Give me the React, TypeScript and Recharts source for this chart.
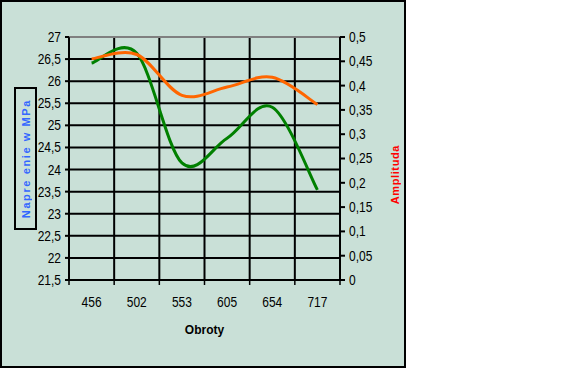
import { LineChart, Line, XAxis, YAxis, CartesianGrid, ReferenceLine } from "recharts";

// rotational speeds on the x axis
const obroty = ["456", "502", "553", "605", "654", "717"];
// stress in MPa (left axis)
const naprezenie = [26.41, 26.63, 24.15, 24.71, 25.41, 23.54];
// amplitude (right axis)
const amplituda = [0.455, 0.464, 0.38, 0.397, 0.417, 0.361];

const leftTicks = [21.5, 22, 22.5, 23, 23.5, 24, 24.5, 25, 25.5, 26, 26.5, 27];
const rightTicks = [0, 0.05, 0.1, 0.15, 0.2, 0.25, 0.3, 0.35, 0.4, 0.45, 0.5];

const FONT = '"Liberation Sans", Arial, sans-serif';
const BG = "#C9E0D7";

const data = obroty.map((label, i) => ({
  pos: i + 0.5,
  label,
  naprezenie: naprezenie[i],
  amplituda: amplituda[i],
}));

// band edges and centres on the numeric x axis
const xTicks = Array.from({ length: obroty.length * 2 + 1 }, (_, i) => i / 2);

const comma = (v: number) => String(v).replace(".", ",");

// Excel-like smoothed line (Catmull-Rom through the points)
function smoothCurve(context: any) {
  let pts: number[][] = [];
  return {
    areaStart() {},
    areaEnd() {},
    lineStart() {
      pts = [];
    },
    point(x: number, y: number) {
      pts.push([+x, +y]);
    },
    lineEnd() {
      const n = pts.length;
      if (!n) return;
      context.moveTo(pts[0][0], pts[0][1]);
      for (let i = 0; i < n - 1; i++) {
        const p0 = pts[i - 1] || pts[i];
        const p1 = pts[i];
        const p2 = pts[i + 1];
        const p3 = pts[i + 2] || p2;
        context.bezierCurveTo(
          p1[0] + (p2[0] - p0[0]) / 6,
          p1[1] + (p2[1] - p0[1]) / 6,
          p2[0] - (p3[0] - p1[0]) / 6,
          p2[1] - (p3[1] - p1[1]) / 6,
          p2[0],
          p2[1]
        );
      }
    },
  };
}

function NarrowText({ x, y, anchor, children }: any) {
  return (
    <g transform={`translate(${x},${y})`}>
      <text transform="scale(0.8,1)" textAnchor={anchor} dominantBaseline="central" fontSize={15} fontFamily={FONT} fill="#000">
        {children}
      </text>
    </g>
  );
}

function XTick(props: any) {
  const { x, y, payload } = props;
  const v = payload.value as number;
  if (Number.isInteger(v)) {
    return <line x1={x} x2={x} y1={y} y2={y + 5} stroke="#000" strokeWidth={1.5} />;
  }
  return (
    <NarrowText x={x} y={y + 22} anchor="middle">
      {obroty[Math.floor(v)]}
    </NarrowText>
  );
}

function LeftTick(props: any) {
  const { x, y, payload } = props;
  return (
    <NarrowText x={x} y={y} anchor="end">
      {comma(payload.value)}
    </NarrowText>
  );
}

function RightTick(props: any) {
  const { x, y, payload } = props;
  return (
    <NarrowText x={x} y={y} anchor="start">
      {comma(payload.value)}
    </NarrowText>
  );
}

export default function App() {
  return (
    <div style={{ position: "absolute", left: 0, top: 0, width: 569, height: 383, background: "#fff" }}>
      <div
        style={{
          position: "absolute",
          left: 0,
          top: 0,
          width: 406,
          height: 368,
          boxSizing: "border-box",
          border: "2px solid #000",
          background: BG,
        }}
      >
        <LineChart width={402} height={364} data={data} margin={{ top: 35, right: 19, bottom: 26, left: 27 }}>
          <CartesianGrid
            yAxisId="left"
            stroke="#000"
            strokeWidth={2}
            vertical={true}
            verticalCoordinatesGenerator={({ offset }: any) =>
              Array.from({ length: obroty.length + 1 }, (_, i) => offset.left + (i * offset.width) / obroty.length)
            }
          />
          <XAxis
            dataKey="pos"
            type="number"
            domain={[0, obroty.length]}
            ticks={xTicks}
            interval={0}
            tickSize={0}
            tickMargin={0}
            tickLine={false}
            tick={<XTick />}
            axisLine={{ stroke: "#000", strokeWidth: 2 }}
            height={60}
            label={{
              value: "Obroty",
              position: "insideBottom",
              offset: 6,
              style: { fontFamily: FONT, fontWeight: 700, fontSize: 12, fill: "#000" },
            }}
          />
          <YAxis
            yAxisId="left"
            domain={[21.5, 27]}
            ticks={leftTicks}
            interval={0}
            width={40}
            tickSize={4}
            tickMargin={4}
            tickLine={{ stroke: "#000", strokeWidth: 2 }}
            axisLine={{ stroke: "#000", strokeWidth: 1.5 }}
            tick={<LeftTick />}
          />
          <YAxis
            yAxisId="right"
            orientation="right"
            domain={[0, 0.5]}
            ticks={rightTicks}
            interval={0}
            width={45}
            tickSize={5}
            tickMargin={4}
            tickLine={{ stroke: "#000", strokeWidth: 2 }}
            axisLine={{ stroke: "#000", strokeWidth: 2 }}
            tick={<RightTick />}
          />
          <ReferenceLine yAxisId="left" y={27} stroke="#808080" strokeWidth={2} />
          <Line
            yAxisId="left"
            type={smoothCurve as any}
            dataKey="naprezenie"
            stroke="#008000"
            strokeWidth={3}
            dot={false}
            isAnimationActive={false}
          />
          <Line
            yAxisId="right"
            type={smoothCurve as any}
            dataKey="amplituda"
            stroke="#FF6600"
            strokeWidth={3}
            dot={false}
            isAnimationActive={false}
          />
        </LineChart>
      </div>
      <div
        style={{
          position: "absolute",
          left: 14,
          top: 87,
          width: 23,
          height: 143,
          boxSizing: "border-box",
          border: "2px solid #000",
          display: "flex",
          alignItems: "center",
          justifyContent: "center",
        }}
      >
        <span
          style={{
            writingMode: "vertical-rl",
            transform: "rotate(180deg)",
            color: "#3366FF",
            fontFamily: FONT,
            fontWeight: 700,
            fontSize: 11,
            letterSpacing: 1.6,
            whiteSpace: "pre",
          }}
        >
          Napre enie w MPa
        </span>
      </div>
      <div
        style={{
          position: "absolute",
          left: 386,
          top: 140,
          width: 18,
          height: 70,
          display: "flex",
          alignItems: "center",
          justifyContent: "center",
        }}
      >
        <span
          style={{
            writingMode: "vertical-rl",
            transform: "rotate(180deg)",
            color: "#FF0000",
            fontFamily: FONT,
            fontWeight: 700,
            fontSize: 11,
            letterSpacing: 0.6,
          }}
        >
          Amplituda
        </span>
      </div>
    </div>
  );
}
